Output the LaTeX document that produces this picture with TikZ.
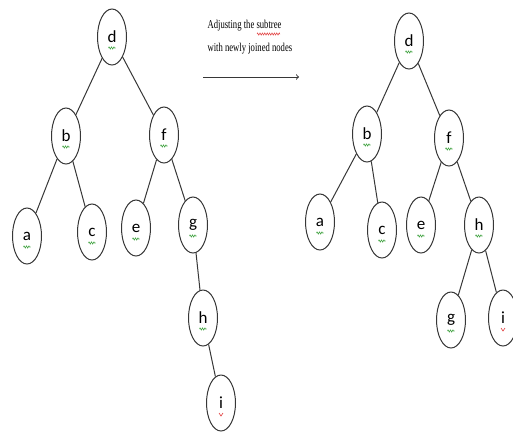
\documentclass[tikz,border=0pt]{standalone}
\usepackage{fontspec}
\setmainfont{Liberation Serif}
\newfontfamily\keyfont{Carlito}
\usetikzlibrary{shapes.geometric,decorations.pathmorphing}

\definecolor{linegray}{RGB}{55,55,55}
\definecolor{spellgreen}{RGB}{70,165,70}
\definecolor{spellred}{RGB}{225,60,60}

\tikzset{
  treenode/.style={ellipse, draw=linegray, line width=1pt, minimum width=29pt,
    minimum height=56pt, inner sep=0pt, font=\keyfont\fontsize{17}{17}\selectfont},
  treeedge/.style={draw=linegray, line width=1pt},
  squiggle/.style={decorate, decoration={zigzag, segment length=2.4pt, amplitude=1.1pt},
    line width=0.6pt}
}

\begin{document}
\begin{tikzpicture}[x=1pt, y=-1pt]

    % --- Page frame ---
    \useasboundingbox (0,0) rectangle (513,432);

    % --- Tree before the change ---
    \node[treenode] (dL) at (112,37)  {d};
    \node[treenode] (bL) at (66,136)  {b};
    \node[treenode] (fL) at (164,135) {f};
    \node[treenode] (aL) at (27,236)  {a};
    \node[treenode] (cL) at (92,232)  {c};
    \node[treenode] (eL) at (136,228) {e};
    \node[treenode] (gL) at (193,225) {g};
    \node[treenode] (hL) at (203,318) {h};
    \node[treenode] (iL) at (221,403) {i};

    \draw[treeedge] (dL) -- (bL);
    \draw[treeedge] (dL) -- (fL);
    \draw[treeedge] (bL) -- (aL);
    \draw[treeedge] (bL) -- (cL);
    \draw[treeedge] (fL) -- (eL);
    \draw[treeedge] (fL) -- (gL);
    \draw[treeedge] (gL) -- (hL);
    \draw[treeedge] (hL) -- (iL);

    % --- Tree after the change ---
    \node[treenode] (dR) at (409,41)  {d};
    \node[treenode] (bR) at (367,134) {b};
    \node[treenode] (fR) at (449,138) {f};
    \node[treenode] (aR) at (320,222) {a};
    \node[treenode] (cR) at (382,230) {c};
    \node[treenode] (eR) at (421,225) {e};
    \node[treenode] (hR) at (479,225) {h};
    \node[treenode] (gR) at (451,320) {g};
    \node[treenode] (iR) at (503,318) {i};

    \draw[treeedge] (dR) -- (bR);
    \draw[treeedge] (dR) -- (fR);
    \draw[treeedge] (bR) -- (aR);
    \draw[treeedge] (bR) -- (cR);
    \draw[treeedge] (fR) -- (eR);
    \draw[treeedge] (fR) -- (hR);
    \draw[treeedge] (hR) -- (gR);
    \draw[treeedge] (hR) -- (iR);

    % --- Wavy marks under the letters ---
    \foreach \n in {dL,bL,fL,aL,cL,eL,gL,hL,dR,bR,fR,aR,cR,eR,hR,gR}
      \draw[squiggle, spellgreen] ([xshift=-3.5pt, yshift=-11pt]\n.center) -- ++(7,0);
    \foreach \n in {iL,iR}
      \draw[spellred, line width=0.6pt] ([xshift=-2pt, yshift=-10pt]\n.center)
        -- ++(2,3) -- ++(2,-3);

    % --- Caption and arrow between the trees ---
    \node[anchor=north west, align=left, xscale=0.72, transform shape,
      font=\fontsize{12}{23}\selectfont] (caption) at (205,17)
      {Adjusting the subtree\\with newly joined nodes};
    \draw[squiggle, spellred, line width=0.5pt] (257,34) -- (280,34);

    \coordinate (arrowStart) at (203,77);
    \coordinate (arrowEnd) at (299,77);
    \draw[treeedge, ->] (arrowStart) -- (arrowEnd);

\end{tikzpicture}
\end{document}
